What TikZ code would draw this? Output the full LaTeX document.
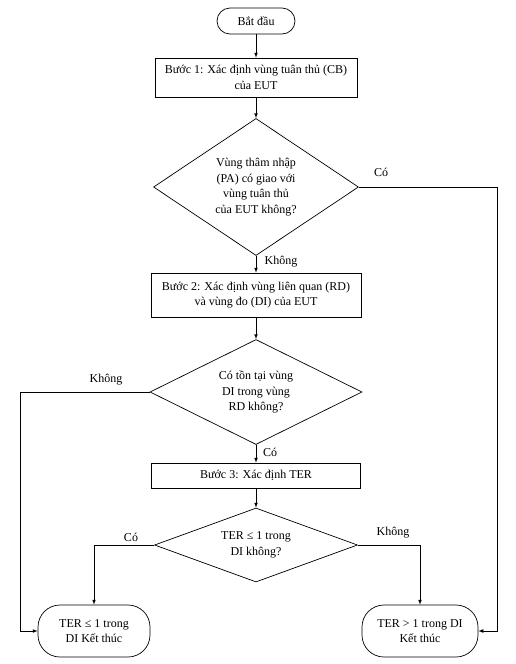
\documentclass[tikz,border=0pt]{standalone}
\usepackage{fontspec}
\setmainfont{Liberation Serif}
\usetikzlibrary{shapes.geometric}
\begin{document}
\begin{tikzpicture}[x=1pt,y=-1pt,line width=0.7pt,font=\fontsize{12}{15.5}\selectfont]
        %
        % `term' is used for the start and end boxes (rounded).
        % `process' is used for the steps.
        % `decision' is used for the questions (diamonds).
        \tikzstyle{term} = [draw,rounded corners=13pt,minimum width=78pt,minimum height=26pt,align=center]
        \tikzstyle{endterm} = [draw,rounded corners=22pt,minimum height=52pt,align=center]
        \tikzstyle{process} = [draw,align=center,inner sep=3pt]
        \tikzstyle{decision} = [draw,shape=diamond,inner sep=0pt,align=center]
        \tikzstyle{flow} = [->,>=latex]
        \tikzstyle{answer} = [inner sep=1pt]
        %
        \useasboundingbox (0,0) rectangle (516,664);
        %
        % Main column
        \node[term] (start) at (256,21) {Bắt đầu};
        \node[process,minimum width=202pt,minimum height=39pt] (step1) at (256,77.5)
        {Bước 1: Xác định vùng tuân thủ (CB)\\của EUT};
        \node[decision,minimum width=205pt,minimum height=137pt,aspect=1.5] (ask1) at (256,187)
        {Vùng thâm nhập\\(PA) có giao với\\vùng tuân thủ\\của EUT không?};
        \node[process,minimum width=210pt,minimum height=44pt] (step2) at (256,295)
        {Bước 2: Xác định vùng liên quan (RD)\\và vùng đo (DI) của EUT};
        \node[decision,minimum width=212pt,minimum height=105pt,aspect=2] (ask2) at (256,392)
        {Có tồn tại vùng\\DI trong vùng\\RD không?};
        \node[process,minimum width=209pt,minimum height=25pt] (step3) at (256,475.5)
        {Bước 3: Xác định TER};
        \node[decision,minimum width=203pt,minimum height=74pt,aspect=2.7] (ask3) at (256,545)
        {TER ≤ 1 trong\\DI không?};
        %
        % End boxes
        \node[endterm,minimum width=112pt] (endok) at (94,631) {TER ≤ 1 trong\\DI Kết thúc};
        \node[endterm,minimum width=116pt] (endfail) at (420,631) {TER > 1 trong DI\\Kết thúc};
        %
        % Straight arrows
        \draw[flow] (start) -- (step1);
        \draw[flow] (step1) -- (ask1);
        \draw[flow] (ask1) -- (step2);
        \draw[flow] (step2) -- (ask2);
        \draw[flow] (ask2) -- (step3);
        \draw[flow] (step3) -- (ask3);
        %
        % Side arrows
        \coordinate (right1) at (497,187);
        \coordinate (left2) at (20,392);
        \draw[flow] (ask1.east) -- (right1) |- (endfail.east);
        \draw[flow] (ask2.west) -- (left2) |- (endok.west);
        \draw[flow] (ask3.west) -| (endok.north);
        \draw[flow] (ask3.east) -| (endfail.north);
        %
        % Answers
        \node[answer] (yes1) at (381,172) {Có};
        \node[answer] (no1) at (281,262) {Không};
        \node[answer] (no2) at (106,380) {Không};
        \node[answer] (yes2) at (270,452) {Có};
        \node[answer] (yes3) at (131,537) {Có};
        \node[answer] (no3) at (393,533) {Không};
        %
        \end{tikzpicture}
\end{document}
